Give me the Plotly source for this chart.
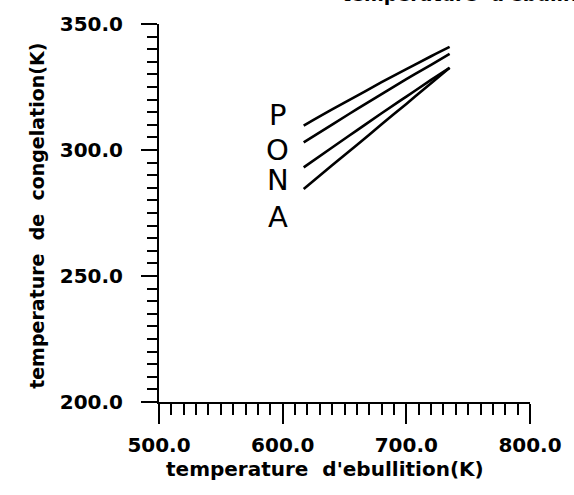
import plotly.graph_objects as go

# Data
teb = [617, 640, 660, 680, 700, 720, 735]          # boiling temperature (K)
curve_P = [309.7, 316.1, 321.5, 326.9, 332.1, 337.2, 340.9]
curve_O = [303.0, 310.1, 316.2, 322.2, 328.1, 333.8, 338.1]
curve_N = [293.1, 301.0, 307.8, 314.6, 321.2, 327.8, 332.6]
curve_A = [284.5, 293.9, 302.0, 310.2, 318.3, 326.5, 332.6]
letters = ["P", "O", "N", "A"]
letter_x = [596, 596, 596, 596]
letter_y = [314.0, 300.2, 288.0, 273.4]

x_ticks = [500, 600, 700, 800]
y_ticks = [200, 250, 300, 350]

FONT = "DejaVu Sans"

fig = go.Figure()
for ys in (curve_P, curve_O, curve_N, curve_A):
    fig.add_trace(go.Scatter(x=teb, y=ys, mode="lines",
                             line=dict(color="black", width=2.6, shape="spline"),
                             showlegend=False, hoverinfo="skip"))

for t, lx, ly in zip(letters, letter_x, letter_y):
    fig.add_annotation(x=lx, y=ly, xref="x", yref="y", text=t, showarrow=False,
                       font=dict(family=FONT, size=29, color="black"),
                       xanchor="center", yanchor="middle")

axis_common = dict(showline=True, linecolor="black", linewidth=2,
                   ticks="outside", tickcolor="black", tickwidth=2,
                   showgrid=False, zeroline=False, tickformat=".1f",
                   tickfont=dict(family=FONT, size=20, color="black", weight="bold"))

fig.update_xaxes(range=[500, 800], tickvals=x_ticks, ticklen=20,
                 ticklabelstandoff=4,
                 minor=dict(dtick=10, ticklen=11, tickwidth=2, tickcolor="black",
                            ticks="outside", showgrid=False),
                 **axis_common)
fig.update_yaxes(range=[200, 350], tickvals=y_ticks, ticklen=16,
                 ticklabelstandoff=14,
                 minor=dict(dtick=5, ticklen=10, tickwidth=2, tickcolor="black",
                            ticks="outside", showgrid=False),
                 **axis_common)

fig.add_annotation(xref="paper", yref="paper", x=(329 - 159) / 381, y=-0.178,
                   text="temperature  d'ebullition(K)", showarrow=False,
                   xanchor="center", yanchor="middle",
                   font=dict(family=FONT, size=20, color="black", weight="bold"))
fig.add_annotation(xref="paper", yref="paper", x=-0.331, y=0.493,
                   text="temperature  de  congelation(K)", showarrow=False,
                   textangle=-90, xanchor="center", yanchor="middle",
                   font=dict(family=FONT, size=19, color="black", weight="bold"))
# Partially cut-off heading at the very top
fig.add_annotation(xref="paper", yref="paper", x=(345 - 159) / 381, y=1 + (19 - 2) / 383,
                   text="temperature  d'ebullition", showarrow=False,
                   xanchor="left", yanchor="bottom",
                   font=dict(family=FONT, size=19, color="black", weight="bold"))

fig.update_layout(width=574, height=495, margin=dict(l=159, r=34, t=19, b=93),
                  paper_bgcolor="white", plot_bgcolor="white")

fig.write_html("out.html")
